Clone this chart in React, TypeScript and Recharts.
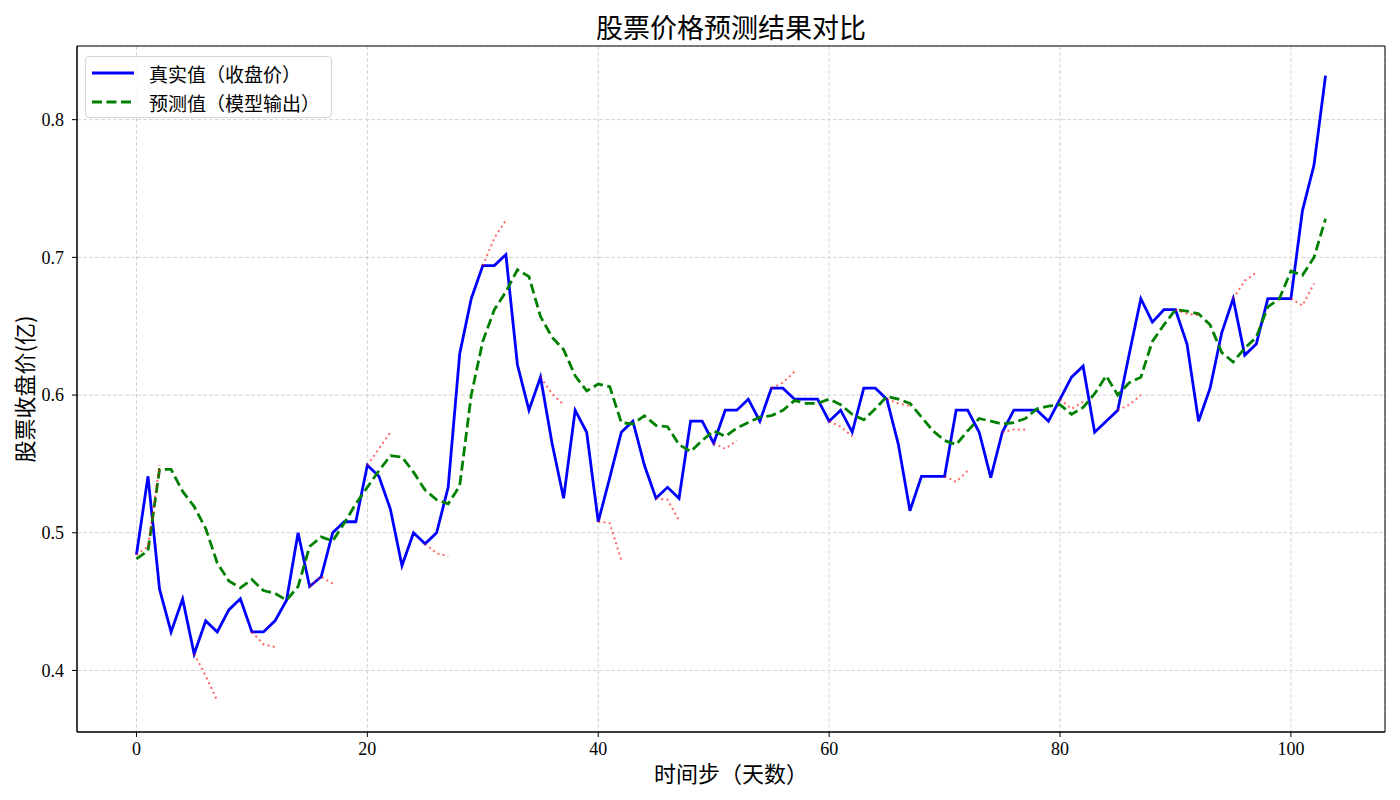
import { LineChart, Line, XAxis, YAxis, CartesianGrid, ReferenceArea } from 'recharts';

const actual = [
  0.484, 0.541, 0.459, 0.428, 0.452, 0.412, 0.436, 0.428, 0.444, 0.452,
  0.428, 0.428, 0.436, 0.451, 0.500, 0.461, 0.468, 0.500, 0.508, 0.508,
  0.549, 0.541, 0.517, 0.476, 0.500, 0.492, 0.500, 0.533, 0.630, 0.670,
  0.694, 0.694, 0.702, 0.622, 0.589, 0.613, 0.565, 0.525, 0.589, 0.573,
  0.508, 0.540, 0.573, 0.581, 0.549, 0.525, 0.533, 0.525, 0.581, 0.581,
  0.565, 0.589, 0.589, 0.597, 0.581, 0.605, 0.605, 0.597, 0.597, 0.597,
  0.581, 0.589, 0.573, 0.605, 0.605, 0.597, 0.564, 0.516, 0.541, 0.541,
  0.541, 0.589, 0.589, 0.573, 0.540, 0.573, 0.589, 0.589, 0.589, 0.581,
  0.597, 0.613, 0.621, 0.573, 0.581, 0.589, 0.630, 0.670, 0.653, 0.662,
  0.662, 0.637, 0.581, 0.605, 0.645, 0.670, 0.629, 0.637, 0.670, 0.670,
  0.670, 0.734, 0.767, 0.832,
];

const predicted = [
  0.481, 0.487, 0.546, 0.546, 0.530, 0.519, 0.503, 0.478, 0.465, 0.460,
  0.466, 0.458, 0.456, 0.451, 0.461, 0.490, 0.497, 0.494, 0.507, 0.521,
  0.533, 0.545, 0.556, 0.555, 0.544, 0.531, 0.524, 0.521, 0.534, 0.600,
  0.639, 0.662, 0.675, 0.691, 0.686, 0.657, 0.642, 0.633, 0.614, 0.603,
  0.608, 0.606, 0.580, 0.579, 0.585, 0.578, 0.577, 0.564, 0.559, 0.567,
  0.574, 0.570, 0.576, 0.580, 0.584, 0.585, 0.589, 0.596, 0.594, 0.594,
  0.597, 0.593, 0.586, 0.582, 0.590, 0.599, 0.597, 0.594, 0.584, 0.574,
  0.567, 0.564, 0.574, 0.583, 0.581, 0.579, 0.580, 0.583, 0.590, 0.592,
  0.593, 0.586, 0.591, 0.601, 0.614, 0.600, 0.609, 0.613, 0.639, 0.651,
  0.662, 0.661, 0.659, 0.651, 0.631, 0.624, 0.634, 0.642, 0.664, 0.670,
  0.690, 0.687, 0.700, 0.728,
];

// multi-step forecasts: start step + values for t, t+1, t+2
const forecastStarts = [0, 5, 10, 15, 20, 25, 30, 35, 40, 45, 50, 55, 60, 65, 70, 75, 80, 85, 90, 95, 100];
const forecastValues = [
  [0.484, 0.490, 0.549],
  [0.412, 0.396, 0.378],
  [0.428, 0.419, 0.417],
  [0.461, 0.468, 0.463],
  [0.549, 0.561, 0.573],
  [0.492, 0.485, 0.483],
  [0.694, 0.714, 0.727],
  [0.613, 0.601, 0.593],
  [0.508, 0.507, 0.480],
  [0.525, 0.524, 0.509],
  [0.565, 0.561, 0.567],
  [0.605, 0.609, 0.617],
  [0.581, 0.577, 0.570],
  [0.597, 0.594, 0.592],
  [0.541, 0.537, 0.545],
  [0.573, 0.575, 0.575],
  [0.597, 0.590, 0.595],
  [0.589, 0.593, 0.600],
  [0.662, 0.659, 0.658],
  [0.670, 0.683, 0.689],
  [0.670, 0.665, 0.681],
];

const xTicks = [0, 20, 40, 60, 80, 100];
const yTicks = [0.4, 0.5, 0.6, 0.7, 0.8];

const X_DOMAIN: [number, number] = [-5.15, 108.15];
const Y_DOMAIN: [number, number] = [0.3553, 0.8535];

const serif = '"Liberation Serif", "Times New Roman", serif';
const cjk = '"Noto Sans CJK SC", "Noto Sans", sans-serif';

const chartData = actual.map((v, i) => ({ t: i, actual: v, predicted: predicted[i] }));
const segments = forecastStarts.map((s, k) =>
  forecastValues[k].map((v, j) => ({ t: s + j, v })),
);

function LegendBox() {
  const rows = [
    { label: '真实值（收盘价）', color: '#0000ff', dash: undefined },
    { label: '预测值（模型输出）', color: '#008000', dash: '10 4.5' },
  ];
  return (
    <div
      style={{
        position: 'absolute', left: 85, top: 56, width: 245, height: 60,
        border: '1px solid #d6d6d6', borderRadius: 4, background: 'rgba(255,255,255,0.8)',
      }}
    >
      {rows.map((r, i) => (
        <div key={r.label} style={{ position: 'absolute', left: 6, top: 3 + i * 29, height: 26, display: 'flex', alignItems: 'center' }}>
          <svg width={42} height={6} style={{ display: 'block' }}>
            <line x1={0} y1={3} x2={42} y2={3} stroke={r.color} strokeWidth={2.8} strokeDasharray={r.dash} />
          </svg>
          <span style={{ marginLeft: 15, fontFamily: cjk, fontSize: 19, color: '#000', lineHeight: 1 }}>{r.label}</span>
        </div>
      ))}
    </div>
  );
}

export default function App() {
  return (
    <div style={{ position: 'absolute', left: 0, top: 0, width: 1400, height: 800, background: '#fff' }}>
      <div
        style={{
          position: 'absolute', left: 77, top: 13, width: 1308, textAlign: 'center',
          fontFamily: cjk, fontSize: 27, lineHeight: 1, color: '#000',
        }}
      >
        股票价格预测结果对比
      </div>
      <div style={{ position: 'absolute', left: 0, top: 0 }}>
        <LineChart width={1400} height={800} data={chartData} margin={{ top: 46, right: 15, bottom: 0, left: 0 }}>
          <CartesianGrid stroke="#d4d4d4" strokeDasharray="4 2" />
          <XAxis
            dataKey="t"
            type="number"
            domain={X_DOMAIN}
            ticks={xTicks}
            allowDataOverflow
            height={68}
            tickSize={5}
            tickMargin={5}
            axisLine={{ stroke: '#000' }}
            tickLine={{ stroke: '#000' }}
            tick={{ fontSize: 18, fill: '#000', fontFamily: serif }}
            label={{ value: '时间步（天数）', position: 'insideBottom', offset: 18, style: { fontSize: 22, fill: '#000', fontFamily: cjk } }}
          />
          <YAxis
            type="number"
            domain={Y_DOMAIN}
            ticks={yTicks}
            allowDataOverflow
            width={77}
            tickSize={5}
            tickMargin={8}
            axisLine={{ stroke: '#000' }}
            tickLine={{ stroke: '#000' }}
            tick={{ fontSize: 18, fill: '#000', fontFamily: serif }}
            tickFormatter={(v: number) => v.toFixed(1)}
            label={{ value: '股票收盘价(亿)', angle: -90, position: 'insideLeft', offset: 25, style: { fontSize: 22, fill: '#000', fontFamily: cjk, textAnchor: 'middle' } }}
          />
          <ReferenceArea x1={X_DOMAIN[0]} x2={X_DOMAIN[1]} y1={Y_DOMAIN[0]} y2={Y_DOMAIN[1]} fill="none" stroke="#000" strokeWidth={1} ifOverflow="visible" />
          <Line dataKey="actual" stroke="#0000ff" strokeWidth={2.8} dot={false} activeDot={false} isAnimationActive={false} />
          <Line dataKey="predicted" stroke="#008000" strokeWidth={2.8} strokeDasharray="10 4.5" dot={false} activeDot={false} isAnimationActive={false} />
          {segments.map((seg, k) => (
            <Line
              key={forecastStarts[k]}
              data={seg}
              dataKey="v"
              stroke="#ff0000"
              strokeOpacity={0.6}
              strokeWidth={2}
              strokeDasharray="2 3.3"
              dot={false}
              activeDot={false}
              isAnimationActive={false}
            />
          ))}
        </LineChart>
      </div>
      <LegendBox />
    </div>
  );
}
